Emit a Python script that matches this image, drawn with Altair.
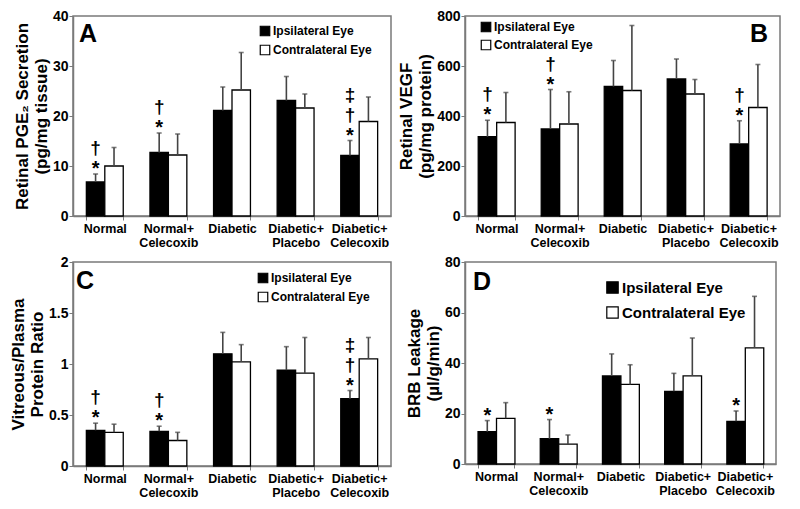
import altair as alt
import pandas as pd

groups = ["Normal", "Normal+\nCelecoxib", "Diabetic", "Diabetic+\nPlacebo", "Diabetic+\nCelecoxib"]
eyes = ["Ipsilateral Eye", "Contralateral Eye"]

# Panel A: Retinal PGE2 secretion (mean and upper end of error bar)
a_ipsi = [6.8, 12.7, 21.1, 23.1, 12.1]
a_ipsi_up = [8.4, 16.6, 25.8, 27.9, 15.1]
a_contra = [10.0, 12.2, 25.2, 21.6, 18.9]
a_contra_up = [13.7, 16.4, 32.7, 24.4, 23.8]
a_sig = ["*†", "*†", "", "", "*†‡"]

# Panel B: Retinal VEGF
b_ipsi = [317, 348, 518, 548, 288]
b_ipsi_up = [383, 506, 622, 628, 381]
b_contra = [374, 368, 502, 488, 434]
b_contra_up = [494, 497, 762, 546, 606]
b_sig = ["*†", "*†", "", "", "*†"]

# Panel C: Vitreous/Plasma protein ratio
c_ipsi = [0.35, 0.34, 1.10, 0.94, 0.66]
c_ipsi_up = [0.42, 0.39, 1.31, 1.17, 0.74]
c_contra = [0.33, 0.25, 1.02, 0.91, 1.05]
c_contra_up = [0.41, 0.33, 1.19, 1.26, 1.26]
c_sig = ["*†", "*†", "", "", "*†‡"]

# Panel D: BRB leakage
d_ipsi = [12.8, 10.0, 34.9, 28.8, 16.9]
d_ipsi_up = [17.2, 17.6, 43.6, 35.9, 21.0]
d_contra = [18.1, 7.9, 31.5, 34.9, 46.0]
d_contra_up = [24.3, 11.5, 39.3, 49.9, 66.4]
d_sig = ["*", "*", "", "", "*"]

FONT = "Liberation Sans"
GRAY = "#7a7a7a"
ERR = "#444444"
SYMBOL_DY = {"*": -5, "†": -26, "‡": -46}


def panel(letter, ipsi, ipsi_up, contra, contra_up, sig, ymax, yvals, title,
          width, height, leg_x, leg_y, leg_font, leg_sym, leg_pad,
          let_x, let_y, let_align="left"):
    rows = []
    for g, v, u in zip(groups, ipsi, ipsi_up):
        rows.append({"group": g, "eye": eyes[0], "value": v, "upper": u})
    for g, v, u in zip(groups, contra, contra_up):
        rows.append({"group": g, "eye": eyes[1], "value": v, "upper": u})
    df = pd.DataFrame(rows)
    srows = []
    for g, u, s in zip(groups, ipsi_up, sig):
        for ch in s:
            srows.append({"group": g, "eye": eyes[0], "upper": u, "sym": ch})
    sig_df = pd.DataFrame(srows)

    x = alt.X("group:N", sort=groups,
              scale=alt.Scale(domain=groups, paddingInner=0.42, paddingOuter=0.21),
              axis=alt.Axis(title=None, labelAngle=0,
                            labelExpr="split(datum.label, '\\n')",
                            labelFont=FONT, labelFontSize=12.5, labelFontWeight="bold",
                            labelColor="black", labelLineHeight=14, labelPadding=2,
                            tickBand="extent", tickSize=4, tickColor=GRAY,
                            domainColor=GRAY, domainWidth=1.5))
    xo = alt.XOffset("eye:N", sort=eyes, scale=alt.Scale(domain=eyes, paddingInner=0, paddingOuter=0))
    y_axis = alt.Axis(values=yvals, format="~f", title=title, grid=False,
                      labelFont=FONT, labelFontSize=14, labelFontWeight="bold",
                      labelColor="black", labelPadding=1,
                      titleFont=FONT, titleFontSize=17, titleFontWeight="bold",
                      titleColor="black", titleLineHeight=19, titlePadding=2,
                      tickSize=4, tickColor=GRAY, domainColor=GRAY, domainWidth=1.5)
    yscale = alt.Scale(domain=[0, ymax], nice=False)

    base = alt.Chart(df)
    bars = base.mark_bar(stroke="black", strokeWidth=1.3).encode(
        x=x, xOffset=xo,
        y=alt.Y("value:Q", scale=yscale, axis=y_axis),
        fill=alt.Fill("eye:N", sort=eyes,
                      scale=alt.Scale(domain=eyes, range=["black", "white"]),
                      legend=alt.Legend(orient="none", legendX=leg_x, legendY=leg_y,
                                        title=None, symbolType="square",
                                        symbolSize=leg_sym, symbolStrokeColor="black",
                                        symbolStrokeWidth=1.2,
                                        labelFont=FONT, labelFontSize=leg_font,
                                        labelFontWeight="bold", labelColor="black",
                                        labelOffset=2, rowPadding=leg_pad)),
    )
    rules = base.mark_rule(color=ERR, strokeWidth=1.6).encode(
        x=x, xOffset=xo, y=alt.Y("value:Q"), y2="upper:Q")
    caps = base.mark_tick(color=ERR, orient="horizontal", size=5, thickness=1.6).encode(
        x=x, xOffset=xo, y=alt.Y("upper:Q"))
    layers = [bars, rules, caps]
    for sym, dy in SYMBOL_DY.items():
        sub = sig_df[sig_df["sym"] == sym] if len(sig_df) else sig_df
        if len(sub) == 0:
            continue
        layers.append(alt.Chart(sub).mark_text(
            baseline="middle", dy=dy, fontSize=19 if sym != "*" else 20,
            fontWeight="bold", font=FONT, color="black").encode(
            x=x, xOffset=xo, y=alt.Y("upper:Q"), text="sym:N"))
    lab = alt.Chart(pd.DataFrame({"t": [letter]})).mark_text(
        fontSize=25, fontWeight="bold", font=FONT, align=let_align, baseline="top",
        color="black").encode(x=alt.value(let_x), y=alt.value(let_y), text="t:N")
    layers.append(lab)
    return alt.layer(*layers).properties(width=width, height=height)


pA = panel("A", a_ipsi, a_ipsi_up, a_contra, a_contra_up, a_sig, 40, [0, 10, 20, 30, 40],
           ["Retinal PGE₂ Secretion", "(pg/mg tissue)"], 318, 200,
           186, 9, 12, 90, 3, 6, 6)
pB = panel("B", b_ipsi, b_ipsi_up, b_contra, b_contra_up, b_sig, 800, [0, 200, 400, 600, 800],
           ["Retinal VEGF", "(pg/mg protein)"], 315, 200,
           15, 5, 12, 90, 2, 303, 6, "right")
pC = panel("C", c_ipsi, c_ipsi_up, c_contra, c_contra_up, c_sig, 2, [0, 0.5, 1, 1.5, 2],
           ["Vitreous/Plasma", "Protein Ratio"], 318, 204,
           184, 10, 12, 90, 3, 3, 7)
pD = panel("D", d_ipsi, d_ipsi_up, d_contra, d_contra_up, d_sig, 80, [0, 20, 40, 60, 80],
           ["BRB Leakage", "(µl/g/min)"], 311, 202,
           140, 18, 15, 130, 8, 8, 8)

chart = alt.concat(pA, pB, pC, pD, columns=2, spacing=4).resolve_scale(
    fill="independent", y="independent", x="independent"
).resolve_legend(fill="independent").configure_view(
    stroke=GRAY, strokeWidth=1.5
).properties(padding=0, background="white")

chart.save("out.html", embed_options={"renderer": "svg", "actions": False})
